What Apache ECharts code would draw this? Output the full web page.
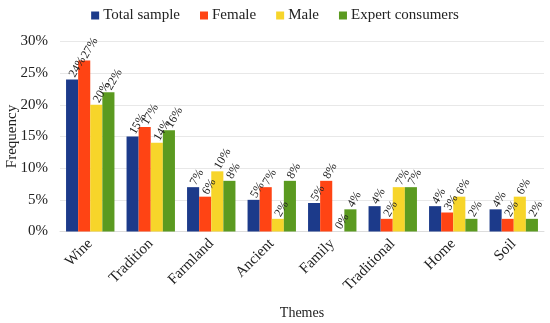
<!DOCTYPE html>
<html><head><meta charset="utf-8">
<script src="https://cdn.jsdelivr.net/npm/echarts@6/dist/echarts.min.js"></script>
<style>html,body{margin:0;padding:0;background:#fff}#c{width:550px;height:323px}</style>
</head><body><div id="c"></div>
<script>
var categories = ['Wine','Tradition','Farmland','Ancient','Family','Traditional','Home','Soil'];
var totalSample = [24, 15, 7, 5, 4.5, 4, 4, 3.5];
var female = [27, 16.5, 5.5, 7, 8, 2, 3, 2];
var male = [20, 14, 9.5, 2, 0, 7, 5.5, 5.5];
var expert = [22, 16, 8, 8, 3.5, 7, 2, 2];
var seriesNames = ['Total sample','Female','Male','Expert consumers'];
var colors = ['#1c3a8a','#ff4414','#f7d52a','#5b9a20'];
var yTicks = [0,5,10,15,20,25,30];

var font = 'Liberation Serif';
var chart = echarts.init(document.getElementById('c'));
var data = [totalSample, female, male, expert];
chart.setOption({
  animation:false,
  color: colors,
  textStyle:{fontFamily:font},
  legend:{top:3,left:'center',itemWidth:8,itemHeight:8,itemGap:20,icon:'rect',
    textStyle:{fontFamily:font,fontSize:15,color:'#222',padding:[0,0,0,-1]},data:seriesNames},
  grid:{left:60,right:6,top:41.5,bottom:91.5,containLabel:false,outerBoundsMode:'none'},
  xAxis:{type:'category',data:categories,name:'Themes',nameLocation:'middle',nameGap:75,nameMoveOverlap:false,
    nameTextStyle:{fontFamily:font,fontSize:14,color:'#222'},
    axisTick:{show:false},axisLine:{lineStyle:{color:'#ddd'}},
    axisLabel:{rotate:45,fontFamily:font,fontSize:15,color:'#222',margin:10,interval:0}},
  yAxis:{type:'value',min:yTicks[0],max:yTicks[yTicks.length-1],interval:5,name:'Frequency',nameLocation:'middle',nameGap:40,nameMoveOverlap:false,
    nameTextStyle:{fontFamily:font,fontSize:15,color:'#222'},
    axisLabel:{formatter:'{value}%',fontFamily:font,fontSize:15,color:'#222',margin:12},
    splitLine:{lineStyle:{color:'#e8e8e8'}},axisLine:{show:false},axisTick:{show:false}},
  series: data.map(function(d,i){return {
    name:seriesNames[i],type:'bar',data:d,barGap:'0%',barCategoryGap:'20%',
    label:{show:true,position:'top',rotate:60,align:'left',verticalAlign:'middle',distance:3,
      fontFamily:font,fontSize:12,color:'#222',
      formatter:function(p){return Math.round(p.value)+'%';}}
  };})
});
</script></body></html>
